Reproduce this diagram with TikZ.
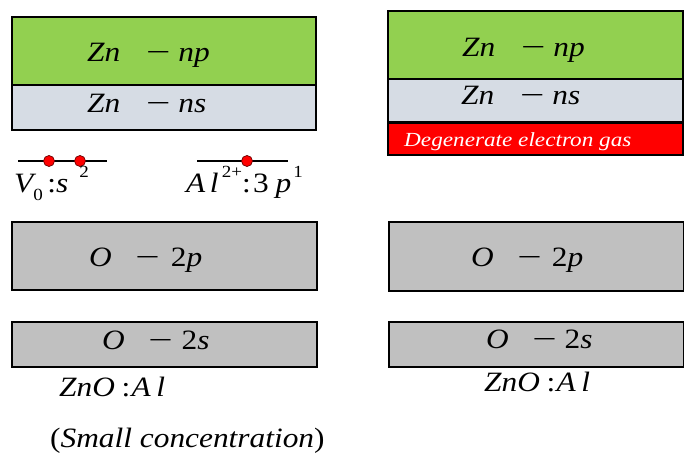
\documentclass[tikz,border=0pt]{standalone}
\usepackage{fontspec}
\usepackage{graphicx}
\setmainfont{Liberation Serif}
\definecolor{zgreen}{RGB}{146,208,80}
\definecolor{zblue}{RGB}{214,220,228}
\definecolor{ogrey}{RGB}{192,192,192}
\newcommand\hwide[1]{\scalebox{1.12}[1]{#1}}
\newcommand\mmn{\textup{\scalebox{1.38}[1]{−}}}
\newcommand\mysub[1]{\raisebox{-8pt}{\fontsize{17}{17}\selectfont\upshape #1}}
\newcommand\mysup[1]{\raisebox{15pt}{\fontsize{17}{17}\selectfont\upshape #1}}
\begin{document}
\begin{tikzpicture}[x=1pt,y=-1pt,
  band/.style={draw=black,line width=1.8pt,inner sep=0pt,outer sep=0pt,anchor=north west},
  lab/.style={font=\fontsize{28}{30}\selectfont\itshape,inner sep=0pt,anchor=base west},
  elec/.style={circle,fill=red,draw=black!60!red,line width=0.7pt,minimum size=11pt,inner sep=0pt},
  level/.style={line width=1.3pt,black}]
\useasboundingbox (0,0) rectangle (684,454);
% left column
\node[band,fill=zgreen,minimum width=304pt,minimum height=68pt] (lnp) at (12,17) {};
\node[band,fill=zblue,minimum width=304pt,minimum height=45pt] (lns) at (12,85) {};
\node[band,fill=ogrey,minimum width=305pt,minimum height=68pt] (lop) at (12,222) {};
\node[band,fill=ogrey,minimum width=305pt,minimum height=45pt] (los) at (12,322) {};
\node[lab] (tlnp) at (87,62) {\hwide{Zn\hspace{23pt}\mmn\hspace{7pt}np}};
\node[lab] (tlns) at (87,113) {\hwide{Zn\hspace{23pt}\mmn\hspace{7pt}ns}};
\node[lab] (tlop) at (89,266) {\hwide{O\hspace{21pt}\mmn\hspace{10pt}\upshape 2\itshape p}};
\node[lab] (tlos) at (102,349) {\hwide{O\hspace{21pt}\mmn\hspace{8pt}\upshape 2\itshape s}};
% electron levels
\coordinate (v1) at (18,161); \coordinate (v2) at (107,161);
\draw[level] (v1) -- (v2);
\node[elec] (e1) at (49,161) {};
\node[elec] (e2) at (80,161) {};
\coordinate (a1) at (197,161); \coordinate (a2) at (288,161);
\draw[level] (a1) -- (a2);
\node[elec] (e3) at (247,161) {};
\node[lab] (tv) at (14,193) {\hwide{V\mysub{0}\hspace{4pt}\upshape:\itshape s\hspace{10pt}\mysup{2}}};
\node[lab] (ta) at (186,193) {\hwide{A\hspace{4pt}l\hspace{3pt}\mysup{2+}\upshape:\hspace{2pt}3\hspace{6pt}\itshape p\hspace{2pt}\mysup{1}}};
\node[lab] (tzl) at (59,396) {\hwide{ZnO\hspace{6pt}\upshape:\itshape\hspace{1pt}A\hspace{5pt}l}};
\node[lab] (tsc) at (50,447) {\hwide{\upshape(\itshape Small concentration\upshape)}};
% right column
\node[band,fill=zgreen,minimum width=295pt,minimum height=68pt] (rnp) at (388,11) {};
\node[band,fill=zblue,minimum width=295pt,minimum height=43pt] (rns) at (388,79) {};
\node[band,fill=red,minimum width=295pt,minimum height=32pt] (rdeg) at (388,123) {};
\node[band,fill=ogrey,minimum width=295pt,minimum height=69pt] (rop) at (389,222) {};
\node[band,fill=ogrey,minimum width=295pt,minimum height=45pt] (ros) at (389,322) {};
\node[lab] (trnp) at (462,57) {\hwide{Zn\hspace{23pt}\mmn\hspace{7pt}np}};
\node[lab] (trns) at (461,105) {\hwide{Zn\hspace{23pt}\mmn\hspace{7pt}ns}};
\node[font=\fontsize{20}{22}\selectfont\itshape,text=white,inner sep=0pt,anchor=base west] (tdeg) at (404,147) {\scalebox{1.16}[1]{Degenerate electron gas}};
\node[lab] (trop) at (471,266) {\hwide{O\hspace{21pt}\mmn\hspace{9pt}\upshape 2\itshape p}};
\node[lab] (tros) at (486,348) {\hwide{O\hspace{21pt}\mmn\hspace{7pt}\upshape 2\itshape s}};
\node[lab] (tzr) at (484,391) {\hwide{ZnO\hspace{6pt}\upshape:\itshape\hspace{1pt}A\hspace{5pt}l}};
\end{tikzpicture}
\end{document}
